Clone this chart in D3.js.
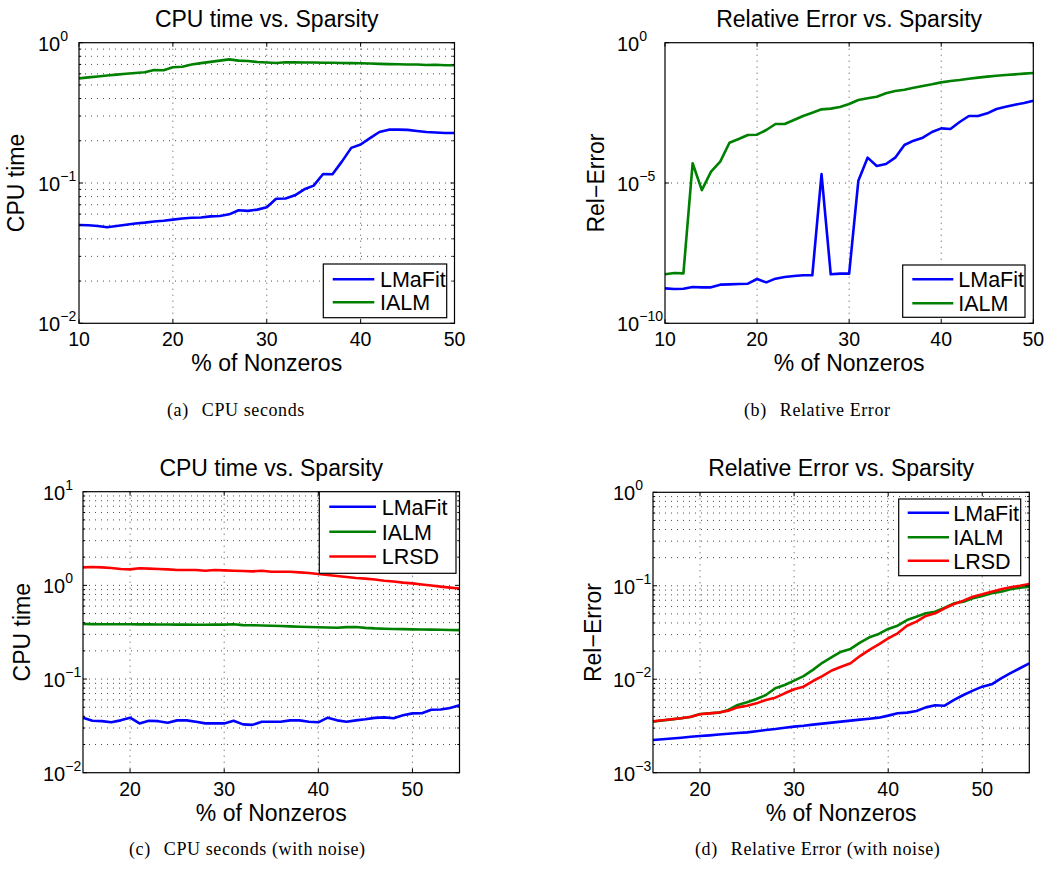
<!DOCTYPE html>
<html>
<head>
<meta charset="utf-8">
<script src="https://cdn.jsdelivr.net/npm/d3@7"></script>
<style>
  body { margin: 0; background: #fff; }
  svg { display: block; }
  text { font-family: "Liberation Sans", Arial, Helvetica, sans-serif; fill: #000; }
  text.caption { font-family: "Liberation Serif", "Times New Roman", serif; letter-spacing: 0.6px; }
</style>
</head>
<body>
<svg id="fig" width="1045" height="871"></svg>
<script>
// ---- data -------------------------------------------------------------
const nonzerosTop = [10,11,12,13,14,15,16,17,18,19,20,21,22,23,24,25,26,27,28,29,30,
                     31,32,33,34,35,36,37,38,39,40,41,42,43,44,45,46,47,48,49,50];
const nonzerosBottom = [15,16,17,18,19,20,21,22,23,24,25,26,27,28,29,30,31,32,33,34,35,
                        36,37,38,39,40,41,42,43,44,45,46,47,48,49,50,51,52,53,54,55];

// (a) CPU time, noiseless
const cpuLMaFit = [0.0502,0.0500,0.0494,0.0484,0.0494,0.0504,0.0514,0.0522,0.0532,0.0538,
  0.0548,0.0558,0.0565,0.0567,0.0578,0.0582,0.0598,0.0640,0.0633,0.0646,0.0671,0.0773,
  0.0776,0.0817,0.0902,0.0958,0.116,0.1155,0.142,0.178,0.188,0.209,0.231,0.240,0.240,
  0.239,0.235,0.231,0.229,0.227,0.227];
const cpuIALM = [0.557,0.566,0.575,0.583,0.592,0.600,0.608,0.615,0.638,0.636,0.668,0.674,
  0.700,0.715,0.730,0.745,0.761,0.745,0.740,0.729,0.722,0.716,0.725,0.724,0.723,0.722,
  0.720,0.719,0.717,0.715,0.713,0.710,0.706,0.704,0.702,0.699,0.700,0.694,0.696,0.690,0.690];

// (b) relative error, noiseless
const errLMaFit = [1.76e-9,1.67e-9,1.71e-9,1.97e-9,1.91e-9,1.91e-9,2.38e-9,2.44e-9,2.51e-9,
  2.58e-9,3.79e-9,2.88e-9,3.90e-9,4.47e-9,4.85e-9,5.13e-9,5.13e-9,2.09e-5,5.57e-9,5.89e-9,
  5.89e-9,1.21e-5,8.0e-5,4.04e-5,4.75e-5,8.0e-5,2.26e-4,3.22e-4,4.11e-4,6.56e-4,8.87e-4,
  8.39e-4,1.49e-3,2.44e-3,2.44e-3,3.04e-3,4.34e-3,5.25e-3,6.18e-3,7.10e-3,8.57e-3];
const errIALM = [5.57e-9,6.2e-9,6.0e-9,5.04e-5,5.6e-6,2.53e-5,5.75e-5,2.73e-4,3.70e-4,5.14e-4,
  5.27e-4,7.74e-4,1.27e-3,1.27e-3,1.76e-3,2.44e-3,3.21e-3,4.22e-3,4.47e-3,5.13e-3,6.53e-3,
  9.08e-3,1.04e-2,1.19e-2,1.57e-2,1.90e-2,2.12e-2,2.49e-2,2.86e-2,3.28e-2,3.86e-2,4.32e-2,
  4.69e-2,5.22e-2,5.68e-2,6.17e-2,6.68e-2,7.06e-2,7.46e-2,7.89e-2,8.32e-2];

// (c) CPU time, with noise
const cpuNoiseLMaFit = [0.0387,0.0359,0.0355,0.0345,0.0362,0.0387,0.0336,0.0359,0.0355,0.0342,
  0.0362,0.0362,0.0350,0.0336,0.0336,0.0336,0.0359,0.0328,0.0324,0.0350,0.0350,0.0350,
  0.0362,0.0362,0.0350,0.0345,0.0387,0.0362,0.0350,0.0362,0.0372,0.0385,0.0390,0.0382,
  0.0410,0.0430,0.0432,0.0470,0.0472,0.0490,0.0525];
const cpuNoiseIALM = [0.387,0.386,0.385,0.385,0.384,0.384,0.383,0.383,0.382,0.382,0.381,0.381,
  0.380,0.380,0.381,0.381,0.385,0.376,0.375,0.373,0.371,0.368,0.365,0.362,0.359,0.357,
  0.355,0.353,0.358,0.360,0.352,0.347,0.344,0.342,0.341,0.339,0.338,0.337,0.336,0.334,0.333];
const cpuNoiseLRSD = [1.557,1.571,1.557,1.532,1.495,1.483,1.521,1.508,1.495,1.483,1.459,1.459,
  1.459,1.435,1.459,1.447,1.435,1.423,1.412,1.435,1.400,1.400,1.400,1.377,1.355,1.323,
  1.291,1.259,1.228,1.197,1.180,1.155,1.120,1.100,1.070,1.050,1.020,0.996,0.970,0.947,0.925];

// (d) relative error, with noise
const errNoiseLMaFit = [2.24e-3,2.28e-3,2.32e-3,2.37e-3,2.42e-3,2.47e-3,2.51e-3,2.56e-3,2.61e-3,
  2.66e-3,2.70e-3,2.78e-3,2.86e-3,2.93e-3,3.02e-3,3.11e-3,3.18e-3,3.27e-3,3.35e-3,3.43e-3,
  3.52e-3,3.61e-3,3.70e-3,3.78e-3,3.88e-3,4.08e-3,4.32e-3,4.39e-3,4.57e-3,5.0e-3,5.26e-3,
  5.21e-3,6.0e-3,6.78e-3,7.55e-3,8.33e-3,8.82e-3,1.02e-2,1.16e-2,1.31e-2,1.48e-2];
const errNoiseIALM = [3.52e-3,3.62e-3,3.72e-3,3.82e-3,3.95e-3,4.25e-3,4.32e-3,4.39e-3,4.69e-3,
  5.30e-3,5.66e-3,6.15e-3,6.78e-3,8.0e-3,8.68e-3,9.65e-3,1.08e-2,1.26e-2,1.50e-2,1.72e-2,
  1.97e-2,2.11e-2,2.46e-2,2.81e-2,3.05e-2,3.45e-2,3.74e-2,4.30e-2,4.67e-2,5.07e-2,5.28e-2,
  5.83e-2,6.49e-2,6.76e-2,7.34e-2,7.78e-2,8.30e-2,8.65e-2,9.16e-2,9.55e-2,9.78e-2];
const errNoiseLRSD = [3.55e-3,3.64e-3,3.73e-3,3.83e-3,3.96e-3,4.22e-3,4.31e-3,4.40e-3,4.61e-3,
  5.0e-3,5.21e-3,5.52e-3,6.0e-3,6.35e-3,7.07e-3,7.8e-3,8.33e-3,9.57e-3,1.08e-2,1.24e-2,
  1.36e-2,1.48e-2,1.77e-2,2.06e-2,2.36e-2,2.74e-2,3.10e-2,3.74e-2,4.13e-2,4.75e-2,5.07e-2,
  5.74e-2,6.38e-2,6.93e-2,7.64e-2,8.10e-2,8.65e-2,9.16e-2,9.62e-2,1.00e-1,1.045e-1];

const xTicksTop = [10, 20, 30, 40, 50];
const xTicksBottom = [20, 30, 40, 50];
const yDecadesA = [-2, -1, 0];
const yDecadesB = [-10, -5, 0];
const yDecadesC = [-2, -1, 0, 1];
const yDecadesD = [-3, -2, -1, 0];

const methodNames = ["LMaFit", "IALM", "LRSD"];
const methodColors = ["#0000ff", "#008000", "#ff0000"];

// ---- layout -----------------------------------------------------------
const panels = [
  { box: [79, 42.7, 454.5, 323.3], x: nonzerosTop, xDomain: [10, 50], xTicks: xTicksTop,
    decades: yDecadesA, minor: true, series: [cpuLMaFit, cpuIALM],
    title: "CPU time vs. Sparsity", ylabel: "CPU time", labelGap: 41, ylabelGap: 55,
    legend: { box: [323.3, 264, 446.7, 317.7], line: [332.7, 374.3], textX: 380, rows: [279.3, 302.3] },
    caption: ["(a)", "CPU seconds"], capX: 167, capY: 416 },
  { box: [665, 42.7, 1033.3, 323.3], x: nonzerosTop, xDomain: [10, 50], xTicks: xTicksTop,
    decades: yDecadesB, minor: false, series: [errLMaFit, errIALM],
    title: "Relative Error vs. Sparsity", ylabel: "Rel\u2212Error", labelGap: 48, ylabelGap: 61,
    legend: { box: [902.7, 265, 1025, 317.3], line: [912.3, 953.3], textX: 958.3, rows: [279.3, 303.3] },
    caption: ["(b)", "Relative Error"], capX: 744, capY: 416 },
  { box: [83, 491.7, 459.5, 772.7], x: nonzerosBottom, xDomain: [15, 55], xTicks: xTicksBottom,
    decades: yDecadesC, minor: true, series: [cpuNoiseLMaFit, cpuNoiseIALM, cpuNoiseLRSD],
    title: "CPU time vs. Sparsity", ylabel: "CPU time", labelGap: 40, ylabelGap: 53,
    legend: { box: [319.3, 491.7, 456, 573.3], line: [329.3, 376], textX: 381.7, rows: [506.7, 531.7, 556.5] },
    caption: ["(c)", "CPU seconds (with noise)"], capX: 129, capY: 855 },
  { box: [653, 492.3, 1029.3, 772.7], x: nonzerosBottom, xDomain: [15, 55], xTicks: xTicksBottom,
    decades: yDecadesD, minor: true, series: [errNoiseLMaFit, errNoiseIALM, errNoiseLRSD],
    title: "Relative Error vs. Sparsity", ylabel: "Rel\u2212Error", labelGap: 40, ylabelGap: 52,
    legend: { box: [898.7, 499, 1020.7, 575.7], line: [907.7, 949], textX: 953.3, rows: [512.7, 537.3, 560.7] },
    caption: ["(d)", "Relative Error (with noise)"], capX: 695, capY: 855 }
];

const svg = d3.select("#fig");
const gridStyle = g => g.attr("stroke", "#000").attr("stroke-width", 1)
  .attr("stroke-dasharray", "1,5").attr("stroke-opacity", 0.7).attr("fill", "none");

panels.forEach(p => {
  const [L, T, R, B] = p.box;
  const x = d3.scaleLinear().domain(p.xDomain).range([L, R]);
  const lo = d3.min(p.decades), hi = d3.max(p.decades);
  const y = d3.scaleLog().domain([Math.pow(10, lo), Math.pow(10, hi)]).range([B, T]);
  const g = svg.append("g");

  // minor log positions (2..9 x each decade)
  const minorVals = [];
  if (p.minor) {
    for (let e = lo; e < hi; e++) for (let k = 2; k <= 9; k++) minorVals.push(k * Math.pow(10, e));
  }
  const majorVals = p.decades.map(e => Math.pow(10, e));

  // grid
  const grid = g.append("g").call(gridStyle);
  p.xTicks.filter(t => t > p.xDomain[0] && t < p.xDomain[1]).forEach(t =>
    grid.append("line").attr("x1", x(t)).attr("x2", x(t)).attr("y1", T).attr("y2", B));
  majorVals.concat(minorVals).filter(v => y(v) > T + 0.5 && y(v) < B - 0.5).forEach(v =>
    grid.append("line").attr("x1", L).attr("x2", R).attr("y1", y(v)).attr("y2", y(v)));

  // data lines
  const line = d3.line().x((d, i) => x(p.x[i])).y(d => y(d));
  p.series.forEach((s, i) => {
    g.append("path").datum(s).attr("d", line).attr("fill", "none")
      .attr("stroke", methodColors[i]).attr("stroke-width", 2.6)
      .attr("stroke-linejoin", "round").attr("stroke-linecap", "butt");
  });

  // frame and inward ticks
  g.append("rect").attr("x", L).attr("y", T).attr("width", R - L).attr("height", B - T)
    .attr("fill", "none").attr("stroke", "#000").attr("stroke-width", 1.2);
  const ticks = g.append("g").attr("stroke", "#000").attr("stroke-width", 1);
  const majLen = 4, minLen = 2.2;
  p.xTicks.forEach(t => {
    ticks.append("line").attr("x1", x(t)).attr("x2", x(t)).attr("y1", B).attr("y2", B - majLen);
    ticks.append("line").attr("x1", x(t)).attr("x2", x(t)).attr("y1", T).attr("y2", T + majLen);
  });
  majorVals.forEach(v => {
    ticks.append("line").attr("x1", L).attr("x2", L + majLen).attr("y1", y(v)).attr("y2", y(v));
    ticks.append("line").attr("x1", R).attr("x2", R - majLen).attr("y1", y(v)).attr("y2", y(v));
  });
  minorVals.forEach(v => {
    ticks.append("line").attr("x1", L).attr("x2", L + minLen).attr("y1", y(v)).attr("y2", y(v));
    ticks.append("line").attr("x1", R).attr("x2", R - minLen).attr("y1", y(v)).attr("y2", y(v));
  });

  // tick labels
  p.xTicks.forEach(t => {
    g.append("text").attr("x", x(t)).attr("y", B + 23).attr("text-anchor", "middle")
      .attr("font-size", 19.5).text(t);
  });
  p.decades.forEach(e => {
    const tx = g.append("text").attr("x", L - p.labelGap).attr("y", y(Math.pow(10, e)) + 8)
      .attr("font-size", 20);
    tx.append("tspan").text("10");
    tx.append("tspan").attr("dy", -10).attr("font-size", 14)
      .text(e < 0 ? "\u2212" + Math.abs(e) : String(e));
  });

  // title and axis labels
  g.append("text").attr("x", (L + R) / 2).attr("y", T - 16).attr("text-anchor", "middle")
    .attr("font-size", 23).text(p.title);
  g.append("text").attr("x", (L + R) / 2).attr("y", B + 48).attr("text-anchor", "middle")
    .attr("font-size", 23).text("% of Nonzeros");
  g.append("text")
    .attr("transform", `translate(${L - p.ylabelGap},${(T + B) / 2}) rotate(-90)`)
    .attr("text-anchor", "middle").attr("font-size", 23).text(p.ylabel);

  // legend
  const lg = p.legend;
  g.append("rect").attr("x", lg.box[0]).attr("y", lg.box[1])
    .attr("width", lg.box[2] - lg.box[0]).attr("height", lg.box[3] - lg.box[1])
    .attr("fill", "#fff").attr("stroke", "#000").attr("stroke-width", 1.2);
  p.series.forEach((s, i) => {
    g.append("line").attr("x1", lg.line[0]).attr("x2", lg.line[1])
      .attr("y1", lg.rows[i]).attr("y2", lg.rows[i])
      .attr("stroke", methodColors[i]).attr("stroke-width", 2.6);
    g.append("text").attr("x", lg.textX).attr("y", lg.rows[i] + 7.8)
      .attr("font-size", 21.5).text(methodNames[i]);
  });

  // sub-figure caption
  const cap = svg.append("text").attr("class", "caption").attr("x", p.capX).attr("y", p.capY)
    .attr("font-size", 18);
  cap.append("tspan").text(p.caption[0]);
  cap.append("tspan").attr("dx", 13).text(p.caption[1]);
});
</script>
</body>
</html>
